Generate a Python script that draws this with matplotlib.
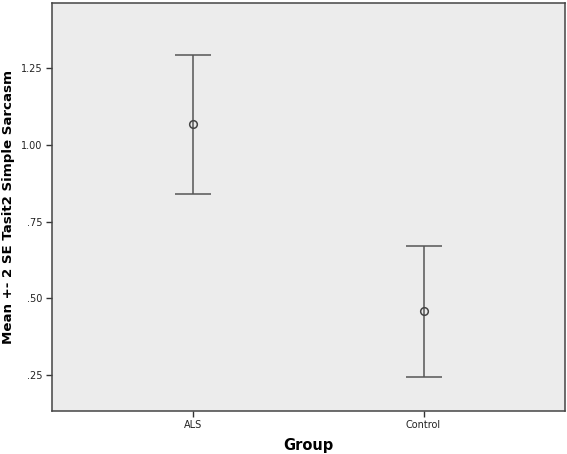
import numpy as np
import matplotlib.pyplot as plt

grupos = ['ALS', 'Control']
media = [1.067, 0.458]
sup = [1.294, 0.672]
inf = [0.840, 0.243]
yticks = [0.25, 0.50, 0.75, 1.00, 1.25]
yticklabels = ['.25', '.50', '.75', '1.00', '1.25']

fig = plt.figure(figsize=(5.67, 4.54), dpi=100)
ax = fig.add_axes([52/567, 1 - 410.7/454, 513/567, 407.7/454])
ax.set_facecolor('#ececec')

x = np.arange(len(grupos))
media = np.array(media)
err = [media - np.array(inf), np.array(sup) - media]
ax.errorbar(x, media, yerr=err, fmt='o', mfc='none', mec='#444444', ms=5.5,
            mew=1.1, ecolor='#555555', elinewidth=1.1, capsize=13, capthick=1.8)

ax.set_xlim(-0.615, 1.615)
ax.set_ylim(0.134, 1.463)
ax.set_xticks(x)
ax.set_xticklabels(grupos, fontsize=7, color='#222222')
ax.set_yticks(yticks)
ax.set_yticklabels(yticklabels, fontsize=7, color='#222222')
ax.tick_params(length=4, width=1, color='#333333', pad=3)
for s in ax.spines.values():
    s.set_color('#444444')
    s.set_linewidth(1.1)

ax.set_xlabel('Group', fontsize=10.5, fontweight='bold')
ax.xaxis.set_label_coords(0.5, -0.066)
ax.set_ylabel('Mean +- 2 SE Tasit2 Simple Sarcasm', fontsize=9.6, fontweight='bold')
ax.yaxis.set_label_coords(-0.072, 0.5)

fig.savefig('out.png')
